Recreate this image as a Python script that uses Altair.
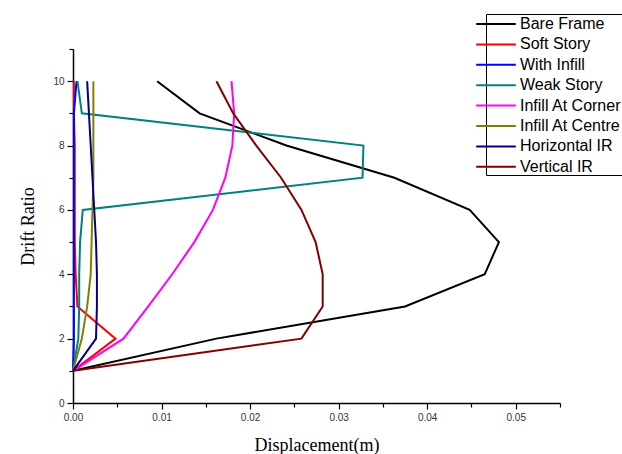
import altair as alt
import pandas as pd

# Storey levels (drift ratio axis)
storeys = [1, 2, 3, 4, 5, 6, 7, 8, 9, 10]

# Lateral displacement (m) of each frame model at every storey
bare_frame = [0.0, 0.0162, 0.0375, 0.0465, 0.0481, 0.0448, 0.0363, 0.0241, 0.0143, 0.0095]
soft_story = [0.0, 0.0048, 0.0005, 0.0003, 0.0002, 0.0002, 0.0002, 0.0002, 0.0001, 0.0001]
with_infill = [0.0, 0.0001, 0.0001, 0.0001, 0.0001, 0.0001, 0.0001, 0.0001, 0.0001, 0.0004]
weak_story = [0.0, 0.0006, 0.0007, 0.0007, 0.0008, 0.0011, 0.0327, 0.0328, 0.0010, 0.0005]
infill_corner = [0.0, 0.0057, 0.0085, 0.0112, 0.0137, 0.0158, 0.0172, 0.0180, 0.0182, 0.0179]
infill_centre = [0.0, 0.0010, 0.0016, 0.0020, 0.0021, 0.0022, 0.0023, 0.0023, 0.0023, 0.0023]
horizontal_ir = [0.0, 0.0026, 0.0027, 0.0027, 0.0026, 0.0024, 0.0022, 0.0020, 0.0018, 0.0016]
vertical_ir = [0.0, 0.0258, 0.0282, 0.0282, 0.0274, 0.0258, 0.0235, 0.0207, 0.0181, 0.0162]

series_names = ["Bare Frame", "Soft Story", "With Infill", "Weak Story",
                "Infill At Corner", "Infill At Centre", "Horizontal IR", "Vertical IR"]
series_values = [bare_frame, soft_story, with_infill, weak_story,
                 infill_corner, infill_centre, horizontal_ir, vertical_ir]
series_colors = ["#000000", "#ff0000", "#0000ff", "#008080",
                 "#ff00ff", "#808000", "#000080", "#800000"]

rows = []
for name, vals in zip(series_names, series_values):
    for s, v in zip(storeys, vals):
        rows.append({"model": name, "storey": s, "disp": v})
df = pd.DataFrame(rows)

x_ticks = [round(i * 0.005, 3) for i in range(12)]
y_ticks = list(range(12))

x_axis = alt.Axis(
    values=x_ticks,
    labelExpr="(round(datum.value * 1000) % 10 == 0) ? format(datum.value, '.2f') : ''",
    tickSize={"condition": {"test": "round(datum.value * 1000) % 10 == 0", "value": 6}, "value": 4},
    labelOverlap=False, labelFlush=False, grid=False,
    title="Displacement(m)",
)
y_axis = alt.Axis(
    values=y_ticks,
    labelExpr="(datum.value % 2 == 0 && datum.value <= 10) ? datum.label : ''",
    tickSize={"condition": {"test": "datum.value % 2 == 0", "value": 6}, "value": 4},
    labelOverlap=False, labelFlush=False, grid=False,
    title="Drift Ratio",
)

legend = alt.Legend(
    orient="none", legendX=413, legendY=-35, title=None,
    symbolType="M-2.2,0H2.2", symbolSize=324, symbolStrokeWidth=2,
    labelFont="Liberation Sans", labelFontSize=16, labelColor="#000000",
    labelOffset=14, rowPadding=2.4, padding=0,
    strokeColor="#000000", fillColor="#ffffff", labelLimit=200,
)

chart = alt.Chart(df).mark_line(strokeWidth=2, clip=False).encode(
    x=alt.X("disp:Q", scale=alt.Scale(domain=[0, 0.055], nice=False, zero=False), axis=x_axis),
    y=alt.Y("storey:Q", scale=alt.Scale(domain=[0, 11], nice=False), axis=y_axis),
    color=alt.Color("model:N", sort=series_names,
                    scale=alt.Scale(domain=series_names, range=series_colors),
                    legend=legend),
    order=alt.Order("storey:Q"),
).properties(
    width=487, height=354,
    autosize="none",
    padding={"left": 73, "top": 49, "right": 62, "bottom": 51},
).configure_view(
    stroke=None
).configure_axis(
    domainColor="#000000", domainWidth=1.5, tickColor="#000000", tickWidth=1.2,
    labelFont="Liberation Sans", labelFontSize=10, labelColor="#333333", labelPadding=3,
    titleFont="Liberation Serif", titleFontSize=18, titleFontWeight="normal", titleColor="#000000",
).configure_axisX(
    titlePadding=14
).configure_axisY(
    titlePadding=15
)

chart.save("out.html", embed_options={"renderer": "svg", "actions": False})
